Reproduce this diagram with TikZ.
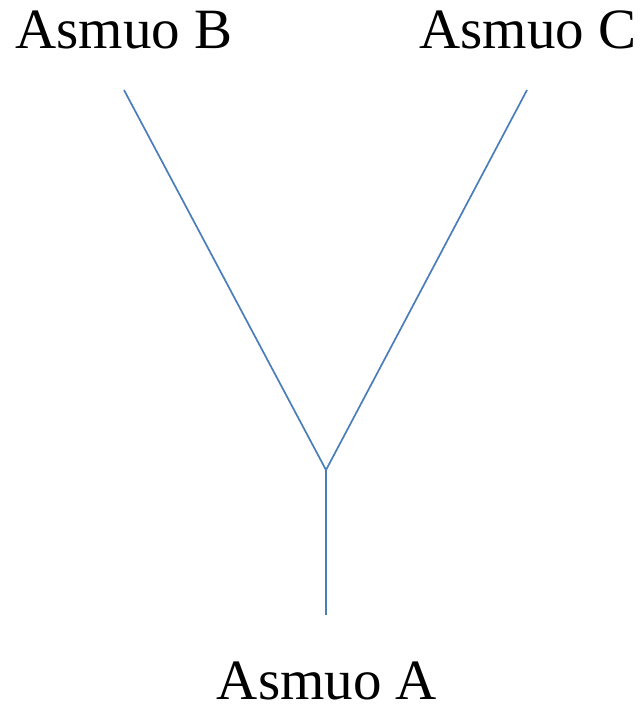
\documentclass[tikz,border=0pt]{standalone}
\usepackage{fontspec}
\setmainfont{Liberation Serif}
\definecolor{lineblue}{HTML}{4A7EBB}
\begin{document}
\begin{tikzpicture}[x=1pt,y=-1pt,
  lbl/.style={inner sep=0pt,anchor=base,font=\fontsize{57}{60}\selectfont},
  branch/.style={draw=lineblue,line width=1.7pt}]
\useasboundingbox (0,0) rectangle (644,704);
\node[lbl] (lb) at (124,48) {Asmuo B};
\node[lbl] (lc) at (528,48) {Asmuo C};
\node[lbl] (la) at (327,699) {Asmuo A};
\coordinate (b) at (124,90);
\coordinate (c) at (527,90);
\coordinate (j) at (326,470);
\coordinate (a) at (326,615);
\draw[branch] (b) -- (j);
\draw[branch] (c) -- (j);
\draw[branch] (j) -- (a);
\end{tikzpicture}
\end{document}
